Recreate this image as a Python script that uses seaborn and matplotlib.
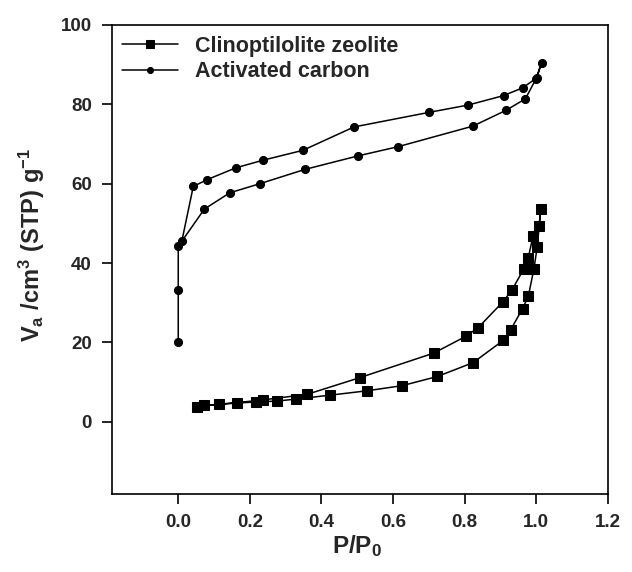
import matplotlib
matplotlib.use("Agg")
import matplotlib.pyplot as plt
import seaborn as sns
import pandas as pd

# Clinoptilolite zeolite (adsorption then desorption path)
zeo_p = [0.053, 0.113, 0.218, 0.276, 0.328, 0.425, 0.528, 0.626, 0.724, 0.824,
         0.908, 0.929, 0.962, 0.978, 0.994, 1.003, 1.013,
         1.008, 0.991, 0.978, 0.966, 0.933, 0.908, 0.838, 0.803, 0.714,
         0.507, 0.360, 0.237, 0.163, 0.071]
zeo_v = [3.8, 4.4, 5.0, 5.2, 5.7, 6.7, 7.8, 9.1, 11.4, 14.9,
         20.5, 23.2, 28.5, 31.6, 38.6, 44.1, 53.7,
         49.4, 46.7, 41.3, 38.6, 33.3, 30.3, 23.7, 21.5, 17.3,
         11.1, 6.9, 5.5, 4.8, 4.1]

# Activated carbon
carb_p = [0.0, 0.0, 0.0, 0.073, 0.144, 0.228, 0.354, 0.502, 0.613, 0.823,
          0.916, 0.970, 1.000, 1.015,
          1.002, 0.963, 0.909, 0.809, 0.702, 0.491, 0.348, 0.236, 0.161,
          0.080, 0.042, 0.010]
carb_v = [20.0, 33.3, 44.2, 53.6, 57.7, 60.0, 63.6, 67.0, 69.3, 74.5,
          78.5, 81.4, 86.5, 90.5,
          86.7, 84.2, 82.2, 79.8, 78.0, 74.3, 68.4, 65.9, 64.0,
          61.0, 59.3, 45.5]

x_ticks = [0.0, 0.2, 0.4, 0.6, 0.8, 1.0, 1.2]
y_ticks = [0, 20, 40, 60, 80, 100]

sns.set_theme(style="white")
plt.rcParams['font.family'] = ['Liberation Sans', 'DejaVu Sans']
plt.rcParams['mathtext.fontset'] = 'custom'
plt.rcParams['mathtext.bf'] = 'Liberation Sans:bold'
plt.rcParams['mathtext.rm'] = 'Liberation Sans:bold'
plt.rcParams['mathtext.it'] = 'Liberation Sans:bold'

fig = plt.figure(figsize=(6.32, 5.72), dpi=100)
ax = fig.add_axes([0.1767, 0.1358, 0.9616 - 0.1767, 0.9563 - 0.1358])

df_z = pd.DataFrame({"P": zeo_p, "V": zeo_v})
df_c = pd.DataFrame({"P": carb_p, "V": carb_v})

sns.lineplot(data=df_z, x="P", y="V", sort=False, estimator=None, ax=ax,
             color="black", marker="s", markersize=6.8, linewidth=1.1,
             markeredgecolor="black", label="Clinoptilolite zeolite")
sns.lineplot(data=df_c, x="P", y="V", sort=False, estimator=None, ax=ax,
             color="black", marker="o", markersize=5.8, linewidth=1.1,
             markeredgecolor="black", label="Activated carbon")

ax.set_xlim(-0.186, 1.2)
ax.set_ylim(-18.3, 100)
ax.set_xticks(x_ticks)
ax.set_yticks(y_ticks)
ax.set_xticklabels([f"{t:.1f}" for t in x_ticks], fontsize=13.5, fontweight="bold")
ax.set_yticklabels([str(t) for t in y_ticks], fontsize=13.5, fontweight="bold")
ax.tick_params(axis="both", direction="out", length=7.2, width=1.2, color="black",
               bottom=True, left=True, top=False, right=False)
ax.tick_params(axis="x", pad=7)
ax.tick_params(axis="y", pad=7)
for s in ax.spines.values():
    s.set_color("black")
    s.set_linewidth(1.2)

ax.set_xlabel(r"$\mathbf{P/P_0}$", fontsize=17.5)
ax.xaxis.set_label_coords(0.4946, -0.082)
ax.set_ylabel(r"$\mathbf{V_a\ /cm^3\ (STP)\ g^{-1}}$", fontsize=17)
ax.yaxis.set_label_coords(-0.13, 0.531)

leg = ax.legend(loc="upper left", frameon=False,
                prop={"weight": "bold", "size": 15.5}, handlelength=2.6,
                borderaxespad=0.1, labelspacing=0.2, handletextpad=0.75,
                markerscale=0.75)

fig.savefig("out.png", dpi=100)
